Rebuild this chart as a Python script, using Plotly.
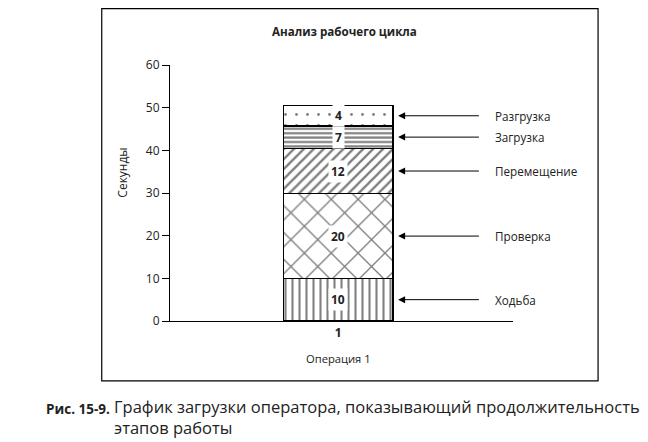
import plotly.graph_objects as go

# Stages of the work cycle (bottom to top)
stages = ["Ходьба", "Проверка", "Перемещение", "Загрузка", "Разгрузка"]
# segment heights as drawn in the picture (seconds)
seconds = [10, 19.8, 10.7, 5.2, 4.8]
# numbers printed on the segments
printed = ["10", "20", "12", "7", "4"]
operations = ["1"]
y_ticks = [0, 10, 20, 30, 40, 50, 60]

patterns = [
    dict(shape="|", size=7, solidity=0.3),
    dict(shape="x", size=19, solidity=0.14),
    dict(shape="/", size=7, solidity=0.33),
    dict(shape="-", size=4.4, solidity=0.5),
    dict(shape=".", size=11, solidity=0.05),
]

FONT = "Open Sans"
INK = "#222"

fig = go.Figure()

for name, val, pat in zip(stages, seconds, patterns):
    fig.add_trace(go.Bar(
        x=operations,
        y=[val],
        name=name,
        width=0.32,
        marker=dict(
            color="white",
            line=dict(color="black", width=1.2),
            pattern=dict(fgcolor="black", bgcolor="white", fillmode="overlay", **pat),
        ),
        showlegend=False,
        hoverinfo="skip",
    ))

# segment labels, arrows and names
base = 0
for name, val, txt in zip(stages, seconds, printed):
    mid = base + val / 2
    base += val
    fig.add_annotation(
        x=0, y=mid, xref="x", yref="y", text="<b>" + txt + "</b>",
        showarrow=False, bgcolor="white", borderpad=2,
        xanchor="center", yanchor="middle",
        font=dict(family=FONT, size=12, color=INK),
    )
    fig.add_annotation(
        x=0.665, y=mid, xref="x domain", yref="y",
        ax=0.905, ay=mid, axref="x domain", ayref="y",
        text="", showarrow=True, arrowhead=2, arrowsize=1.4, arrowwidth=1,
        arrowcolor="black",
    )
    fig.add_annotation(
        x=0.942, y=mid, xref="x domain", yref="y", text=name,
        showarrow=False, xanchor="left", yanchor="middle",
        font=dict(family=FONT, size=11.7, color=INK),
    )

# title, axis titles
fig.add_annotation(x=0.51, y=1.13, xref="paper", yref="paper",
                   xanchor="center", yanchor="middle",
                   text="<b>Анализ рабочего цикла</b>", showarrow=False,
                   font=dict(family=FONT, size=11.6, color=INK))
fig.add_annotation(x=-0.141, y=0.578, xref="paper", yref="paper",
                   xanchor="center", yanchor="middle",
                   text="Секунды", textangle=-90, showarrow=False,
                   font=dict(family=FONT, size=12, color=INK))
fig.add_annotation(x=0.49, y=-0.145, xref="paper", yref="paper",
                   xanchor="center", yanchor="middle",
                   text="Операция 1", showarrow=False,
                   font=dict(family=FONT, size=11.2, color=INK))

# caption
fig.add_annotation(x=-0.366, y=-0.343, xref="paper", yref="paper",
                   xanchor="left", yanchor="middle", align="left",
                   text="<b>Рис. 15-9.</b>", showarrow=False,
                   font=dict(family=FONT, size=13.5, color=INK))
fig.add_annotation(x=-0.168, y=-0.283, xref="paper", yref="paper",
                   xanchor="left", yanchor="top", align="left",
                   text="График загрузки оператора, показывающий продолжительность<br>этапов работы",
                   showarrow=False,
                   font=dict(family=FONT, size=16.5, color=INK))

# frame around the chart (top edge pinned to the figure's top)
fig.add_shape(type="rect", xref="paper", yref="paper",
              x0=-0.199, x1=1.248, y0=-0.234, y1=1.22,
              line=dict(color="black", width=1.2), fillcolor="rgba(0,0,0,0)")

# page body adds ~8px offset, so the figure is drawn 8px smaller
fig.update_layout(
    barmode="stack",
    width=640, height=434,
    margin=dict(l=162, r=135, t=57, b=121),
    paper_bgcolor="white",
    plot_bgcolor="white",
    font=dict(family=FONT, color=INK),
    xaxis=dict(
        type="category", range=[-0.49, 0.51],
        tickvals=operations, ticktext=["<b>1</b>"],
        showline=True, linecolor="black", linewidth=1.2,
        ticks="", showgrid=False, zeroline=False,
        tickfont=dict(family=FONT, size=12, color=INK),
    ),
    yaxis=dict(
        range=[0, 60], tickvals=y_ticks,
        showline=True, linecolor="black", linewidth=1.2,
        ticks="outside", ticklen=7, tickcolor="black", tickwidth=1,
        showgrid=False, zeroline=False,
        tickfont=dict(family=FONT, size=12, color=INK),
    ),
)

fig.write_html("out.html")
